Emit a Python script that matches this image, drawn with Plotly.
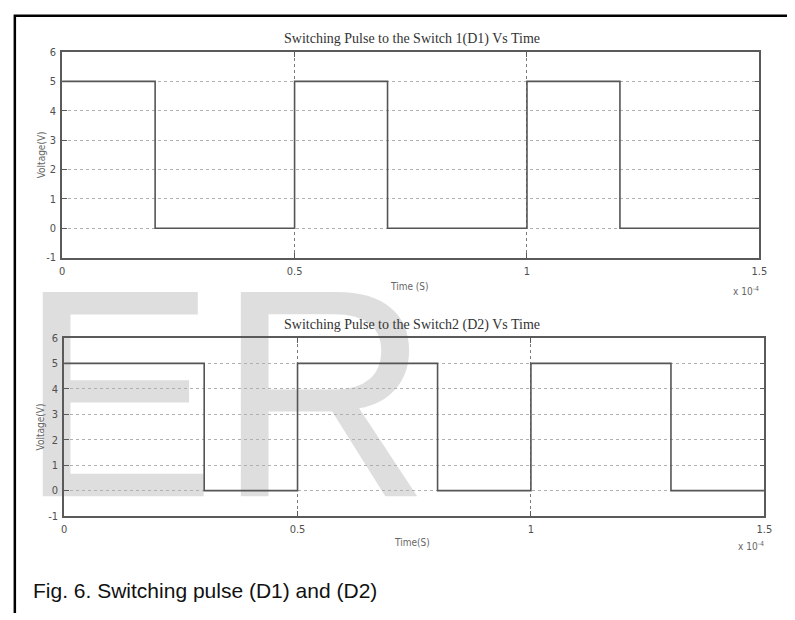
import plotly.graph_objects as go

# ---- data (time in seconds, gate voltage in volts) ----
d1_time = [0, 0.2e-4, 0.5e-4, 0.7e-4, 1.0e-4, 1.2e-4, 1.5e-4]
d1_volt = [5, 0, 5, 0, 5, 0, 0]

d2_time = [0, 0.3e-4, 0.5e-4, 0.8e-4, 1.0e-4, 1.3e-4, 1.5e-4]
d2_volt = [5, 0, 5, 0, 5, 0, 0]

x_tickvals = [0, 0.5e-4, 1.0e-4, 1.5e-4]
x_ticktext = ["0", "0.5", "1", "1.5"]
y_tickvals = [-1, 0, 1, 2, 3, 4, 5, 6]
y_ticktext = ["-1", "0", "1", "2", "3", "4", "5", "6"]

W, H = 795, 620


def px(x):
    return x / W


def py(y):
    return 1 - y / H


NARROW = "Liberation Sans Narrow, DejaVu Sans Condensed, Arial Narrow, sans-serif"
SERIF = "Liberation Serif, Times New Roman, serif"
LINE = "#5a5a5a"
TICKFONT = dict(family=NARROW, size=11, color="#505050")

fig = go.Figure()

# background watermark lettering, drawn in its own full-page subplot so the
# plot lines and grids sit above it
fig.add_trace(go.Scatter(
    x=[434], y=[425], mode="text", text=["ER"],
    textposition="middle left",
    textfont=dict(family="Liberation Sans, Arial, sans-serif", size=297, color="#dedede"),
    hoverinfo="skip", showlegend=False, cliponaxis=False,
    xaxis="x", yaxis="y",
))

fig.add_trace(go.Scatter(
    x=d1_time, y=d1_volt, mode="lines", line=dict(color="#555555", width=1.6, shape="hv"),
    showlegend=False, xaxis="x2", yaxis="y2",
))
fig.add_trace(go.Scatter(
    x=d2_time, y=d2_volt, mode="lines", line=dict(color="#555555", width=1.6, shape="hv"),
    showlegend=False, xaxis="x3", yaxis="y3",
))


def xax(domain, anchor):
    return dict(
        domain=domain, anchor=anchor, range=[0, 1.5e-4],
        tickmode="array", tickvals=x_tickvals, ticktext=x_ticktext,
        showgrid=True, gridcolor="#7a7a7a", griddash="dot", gridwidth=1,
        zeroline=False, showline=True, linecolor=LINE, linewidth=1.6, mirror="ticks",
        ticks="inside", ticklen=5, tickcolor=LINE, tickfont=TICKFONT,
        ticklabelstandoff=2,
    )


def yax(domain, anchor):
    return dict(
        domain=domain, anchor=anchor, range=[-1, 6],
        tickmode="array", tickvals=y_tickvals, ticktext=y_ticktext,
        showgrid=True, gridcolor="#b0b0b0", griddash="dot", gridwidth=1,
        zeroline=False, showline=True, linecolor=LINE, linewidth=1.6, mirror="ticks",
        ticks="inside", ticklen=5, tickcolor=LINE, tickfont=TICKFONT,
        ticklabelstandoff=2,
    )


annotations = []


def label(text, x, y, size, family, color, angle=0, xanchor="center"):
    annotations.append(dict(
        text=text, x=px(x), y=py(y), xref="paper", yref="paper",
        xanchor=xanchor, yanchor="middle", showarrow=False, textangle=angle,
        font=dict(family=family, size=size, color=color),
    ))


label("Switching Pulse to the Switch 1(D1) Vs Time", 415, 34, 14, SERIF, "#333333")
label("Switching Pulse to the Switch2 (D2) Vs Time", 415, 326, 14, SERIF, "#333333")
label("Voltage(V)", 39, 152, 10, NARROW, "#666666", angle=-90)
label("Voltage(V)", 39, 430, 10, NARROW, "#666666", angle=-90)
label("Time (S)", 412, 287, 10, NARROW, "#666666")
label("Time(S)", 415, 548, 10, NARROW, "#666666")
label("x 10<sup>-4</sup>", 753, 291, 10, NARROW, "#666666")
label("x 10<sup>-4</sup>", 759, 552, 10, NARROW, "#666666")
label("Fig. 6. Switching pulse (D1) and (D2)", 28, 597, 21,
      "Liberation Sans, Arial, sans-serif", "#111111", xanchor="left")

# page frame along the left and top edges
shapes = [dict(
    type="path", xref="paper", yref="paper",
    path=f"M {px(12)} {py(620)} L {px(12)} {py(10)} L {px(795)} {py(10)}",
    line=dict(color="#000000", width=2.5),
)]

fig.update_layout(
    width=W, height=H, margin=dict(l=0, r=0, t=0, b=0),
    paper_bgcolor="white", plot_bgcolor="rgba(0,0,0,0)",
    xaxis=dict(domain=[0, 1], range=[0, W], visible=False, fixedrange=True),
    yaxis=dict(domain=[0, 1], range=[H, 0], visible=False, fixedrange=True),
    xaxis2=xax([px(60), px(767)], "y2"),
    yaxis2=yax([py(257), py(47)], "x2"),
    xaxis3=xax([px(62), px(772)], "y3"),
    yaxis3=yax([py(521), py(339)], "x3"),
    annotations=annotations, shapes=shapes, showlegend=False,
)

fig.write_html("out.html")
